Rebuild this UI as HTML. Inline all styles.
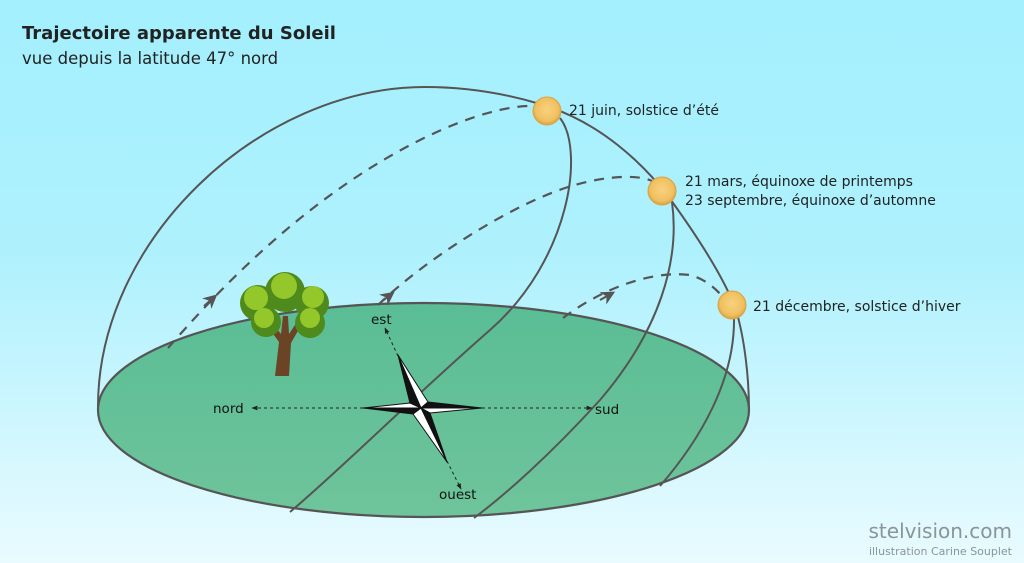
<!DOCTYPE html>
<html><head><meta charset="utf-8"><style>
html,body{margin:0;padding:0;width:1024px;height:563px;overflow:hidden}
svg{display:block}
text{font-family:"DejaVu Sans","Liberation Sans",sans-serif}
</style></head><body>
<svg width="1024" height="563" viewBox="0 0 1024 563" xmlns="http://www.w3.org/2000/svg">
<defs>
<linearGradient id="sky" x1="0" y1="0" x2="0" y2="1">
<stop offset="0" stop-color="#a4f0fe"/><stop offset="0.45" stop-color="#aef1fd"/><stop offset="1" stop-color="#e9fbff"/></linearGradient>
<linearGradient id="gr" x1="0" y1="0" x2="0" y2="1">
<stop offset="0" stop-color="#5abd95"/><stop offset="1" stop-color="#6fc49b"/></linearGradient>
<radialGradient id="sun" cx="0.5" cy="0.45" r="0.55">
<stop offset="0" stop-color="#f8d27f"/><stop offset="0.75" stop-color="#f0c060"/><stop offset="1" stop-color="#d8a040"/></radialGradient>
<marker id="ar" viewBox="0 0 10 10" refX="5" refY="5" markerWidth="14" markerHeight="14" orient="auto" markerUnits="userSpaceOnUse">
<path d="M0,0 L10,5 L0,10 L3,5 z" fill="#555"/></marker>
<marker id="sa" viewBox="0 0 10 10" refX="9" refY="5" markerWidth="6" markerHeight="6" orient="auto" markerUnits="userSpaceOnUse">
<path d="M0,1 L10,5 L0,9 z" fill="#222"/></marker>
</defs>
<rect width="1024" height="563" fill="url(#sky)"/>
<text x="22" y="39" font-size="18" font-weight="bold" fill="#222">Trajectoire apparente du Soleil</text>
<text x="22" y="64" font-size="16.5" fill="#222">vue depuis la latitude 47° nord</text>

<ellipse cx="423.5" cy="410" rx="325.5" ry="107" fill="url(#gr)" stroke="#555" stroke-width="2.2"/>

<path d="M98,410 C96,240 260,87 425,87 C470,87 510,95 540,104 L552,108 C600,125 640,160 668,196 C700,240 725,280 736,310 C745,340 749,380 749,410" fill="none" stroke="#555" stroke-width="2"/>

<path d="M560,118 C585,150 570,260 490,330 C410,400 340,470 290,512" fill="none" stroke="#555" stroke-width="2"/>
<path d="M672,202 C680,260 660,330 600,400 C550,455 505,495 474,518" fill="none" stroke="#555" stroke-width="2"/>
<path d="M734,318 C735,380 700,440 660,486" fill="none" stroke="#555" stroke-width="2"/>

<g fill="none" stroke="#555" stroke-width="2.2" stroke-dasharray="10,8">
<path d="M168,348 C210,300 300,200 420,140 C470,115 510,105 535,106"/>
<path d="M378,305 C430,255 520,200 575,185 C610,175 640,175 652,181"/>
<path d="M563,318 C600,290 650,270 690,275 C705,279 715,288 722,296"/>
</g>
<path d="M204,306 L212,299" stroke="#555" stroke-width="2" fill="none" marker-end="url(#ar)"/>
<path d="M381,302 L389,296" stroke="#555" stroke-width="2" fill="none" marker-end="url(#ar)"/>
<path d="M600,300 L609,295" stroke="#555" stroke-width="2" fill="none" marker-end="url(#ar)"/>

<circle cx="547" cy="111" r="14" fill="url(#sun)" stroke="#d9a548" stroke-width="1"/>
<circle cx="662" cy="191" r="14" fill="url(#sun)" stroke="#d9a548" stroke-width="1"/>
<circle cx="732" cy="305" r="14" fill="url(#sun)" stroke="#d9a548" stroke-width="1"/>
<g font-size="14" fill="#222">
<text x="569" y="115">21 juin, solstice d’été</text>
<text x="685" y="186">21 mars, équinoxe de printemps</text>
<text x="685" y="205">23 septembre, équinoxe d’automne</text>
<text x="753" y="311">21 décembre, solstice d’hiver</text>
</g>

<g>
<path d="M275,376 L279,342 L266,324 L270,321 L281,334 L283,316 L288,316 L289,334 L299,319 L303,322 L291,343 L289,376 z" fill="#6a4424"/>
<g fill="#4f8a1c">
<circle cx="258" cy="303" r="18"/><circle cx="312" cy="303" r="17"/>
<circle cx="266" cy="322" r="15"/><circle cx="310" cy="323" r="15"/>
<circle cx="285" cy="292" r="20"/>
</g>
<g fill="#93c72a">
<circle cx="256" cy="298" r="12"/><circle cx="313" cy="297" r="11"/>
<circle cx="264" cy="318" r="10"/><circle cx="310" cy="318" r="10"/>
<circle cx="284" cy="286" r="13"/>
</g>
</g>

<g stroke="#222" stroke-width="1" stroke-dasharray="3,3" fill="none">
<line x1="363" y1="408" x2="252" y2="408" marker-end="url(#sa)"/>
<line x1="482" y1="408" x2="592" y2="408" marker-end="url(#sa)"/>
<line x1="398" y1="356" x2="385" y2="328" marker-end="url(#sa)"/>
<line x1="447" y1="461" x2="461" y2="489" marker-end="url(#sa)"/>
</g>
<g stroke="#111" stroke-width="1" stroke-linejoin="round">
<polygon points="398,355 421,408 410,403" fill="#111"/>
<polygon points="398,355 421,408 428,402" fill="#fff"/>
<polygon points="482,408 421,408 428,402" fill="#111"/>
<polygon points="482,408 421,408 430,413" fill="#fff"/>
<polygon points="447,462 421,408 430,413" fill="#111"/>
<polygon points="447,462 421,408 413,414" fill="#fff"/>
<polygon points="363,408 421,408 413,414" fill="#111"/>
<polygon points="363,408 421,408 410,403" fill="#fff"/>
</g>
<g font-size="13.5" fill="#111">
<text x="213" y="413">nord</text>
<text x="595" y="414">sud</text>
<text x="371" y="324">est</text>
<text x="439" y="499">ouest</text>
</g>

<text x="1012" y="538" font-size="20" fill="#8a9598" text-anchor="end">stelvision.com</text>
<text x="1012" y="555" font-size="11" fill="#8a9598" text-anchor="end">illustration Carine Souplet</text>
</svg>
</body></html>
